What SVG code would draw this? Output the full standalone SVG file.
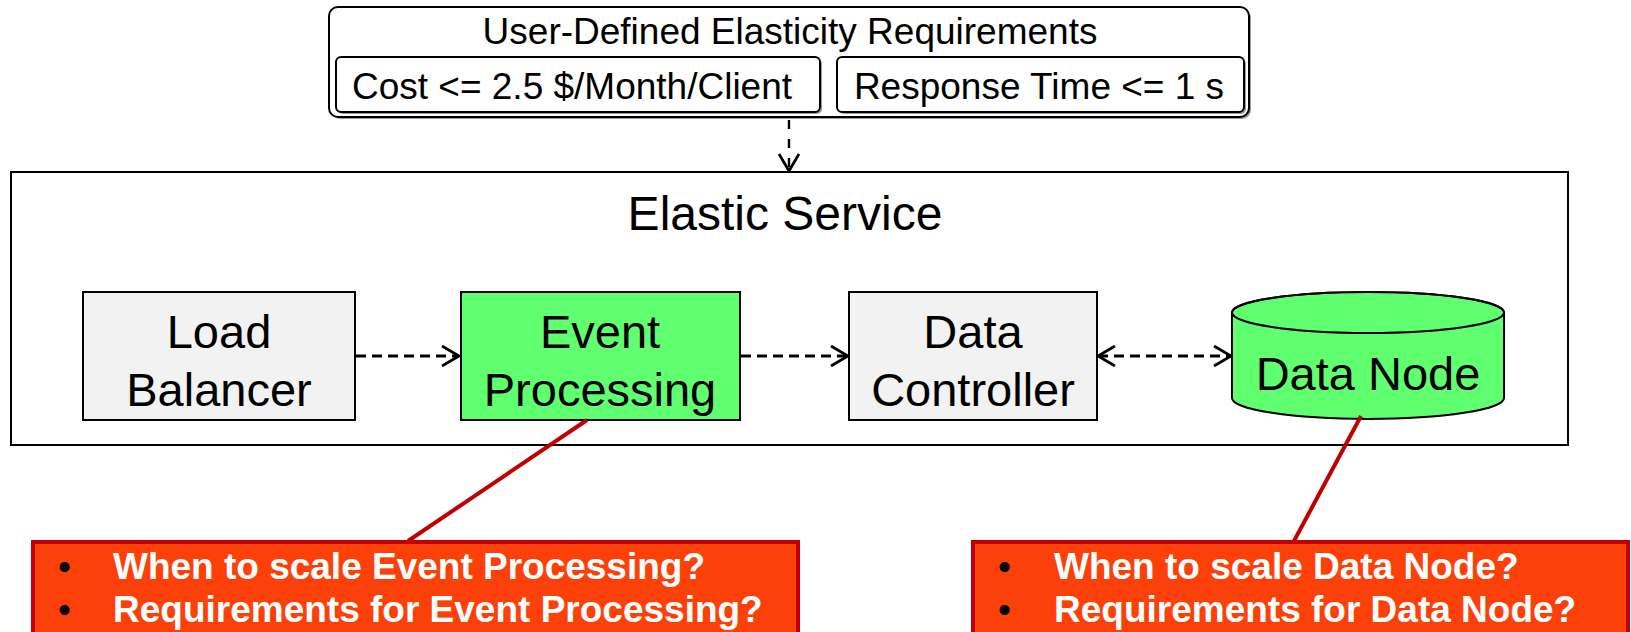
<svg xmlns="http://www.w3.org/2000/svg" width="1631" height="632" viewBox="0 0 1631 632">
<style>
  .t { font-family: "Liberation Sans", Arial, sans-serif; fill: #000; }
  .req { font-size: 37px; }
  .lbl { font-size: 47px; text-anchor: middle; }
  .box { stroke: #000; stroke-width: 2; }
  .gray { fill: #f2f2f2; }
  .green { fill: #5fff6f; }
  .shadow { fill: #9a9a9a; }
  .dash { fill: none; stroke: #000; stroke-width: 2.8; stroke-dasharray: 10 6; }
  .vdash { fill: none; stroke: #000; stroke-width: 2.4; stroke-dasharray: 9 10; }
  .callout { fill: #fb4109; stroke: #c00000; stroke-width: 4; }
  .ct { font-family: "Liberation Sans", Arial, sans-serif; font-size: 37px; font-weight: bold; fill: #fff; }
  .bul { font-family: "Liberation Sans", Arial, sans-serif; font-size: 37px; fill: #000; }
  .red { stroke: #c00000; stroke-width: 4; fill: none; }
</style>
<defs>
  <marker id="arr" viewBox="0 0 20 22" refX="19" refY="11" markerWidth="20" markerHeight="22" orient="auto-start-reverse" markerUnits="userSpaceOnUse">
    <path d="M2,1 L19,11 L2,21" fill="none" stroke="#000" stroke-width="2.8"/>
  </marker>
</defs>
<rect width="1631" height="632" fill="#fff"/>

<g id="requirements">
  <rect x="331" y="9" width="920" height="110" rx="9" class="shadow"/>
  <rect x="329" y="7" width="920" height="110" rx="9" fill="#fff" class="box"/>
  <text x="790" y="44" class="t req" text-anchor="middle">User-Defined Elasticity Requirements</text>
  <rect x="338" y="59" width="484" height="55" rx="5" class="shadow"/>
  <rect x="336" y="57" width="484" height="55" rx="5" fill="#fff" class="box"/>
  <text x="572" y="99" class="t req" text-anchor="middle">Cost &lt;= 2.5 $/Month/Client</text>
  <rect x="839" y="59" width="407" height="55" rx="5" class="shadow"/>
  <rect x="837" y="57" width="407" height="55" rx="5" fill="#fff" class="box"/>
  <text x="1039" y="99" class="t req" text-anchor="middle">Response Time &lt;= 1 s</text>
</g>

<g id="elastic-service">
  <rect x="11" y="172" width="1557" height="273" fill="#fff" class="box"/>
  <text x="785" y="230" class="t" font-size="48" text-anchor="middle">Elastic Service</text>
</g>

<g id="load-balancer">
  <rect x="83" y="292" width="272" height="128" class="box gray"/>
  <text x="219" y="348" class="t lbl">Load</text>
  <text x="219" y="406" class="t lbl">Balancer</text>
</g>

<g id="event-processing">
  <rect x="461" y="292" width="279" height="128" class="box green"/>
  <text x="600" y="348" class="t lbl">Event</text>
  <text x="600" y="406" class="t lbl">Processing</text>
</g>

<g id="data-controller">
  <rect x="849" y="292" width="248" height="128" class="box gray"/>
  <text x="973" y="348" class="t lbl">Data</text>
  <text x="973" y="406" class="t lbl">Controller</text>
</g>

<g id="data-node">
  <path d="M1232,312.5 V398 A136,21 0 0 0 1504,398 V312.5 A136,20.5 0 0 0 1232,312.5 Z" class="box green"/>
  <ellipse cx="1368" cy="312.5" rx="136" ry="20.5" fill="none" stroke="#000" stroke-width="2"/>
  <text x="1368" y="390" class="t lbl">Data Node</text>
</g>

<g id="connectors">
  <path d="M789,120 V171" class="vdash" marker-end="url(#arr)"/>
  <path d="M356,356 H459" class="dash" marker-end="url(#arr)"/>
  <path d="M741,356 H848" class="dash" marker-end="url(#arr)"/>
  <path d="M1098,356 H1231" class="dash" marker-start="url(#arr)" marker-end="url(#arr)"/>
  <path d="M587,420 L408,541" class="red"/>
  <path d="M1361,416 L1294,541" class="red"/>
</g>

<g id="callout-event-processing">
  <rect x="33" y="542" width="765" height="110" class="callout"/>
  <text x="58" y="579" class="bul">•</text>
  <text x="113" y="579" class="ct" textLength="592" lengthAdjust="spacingAndGlyphs">When to scale Event Processing?</text>
  <text x="58" y="622" class="bul">•</text>
  <text x="113" y="622" class="ct">Requirements for Event Processing?</text>
</g>

<g id="callout-data-node">
  <rect x="973" y="542" width="655" height="110" class="callout"/>
  <text x="998" y="579" class="bul">•</text>
  <text x="1054" y="579" class="ct">When to scale Data Node?</text>
  <text x="998" y="622" class="bul">•</text>
  <text x="1054" y="622" class="ct">Requirements for Data Node?</text>
</g>
</svg>
